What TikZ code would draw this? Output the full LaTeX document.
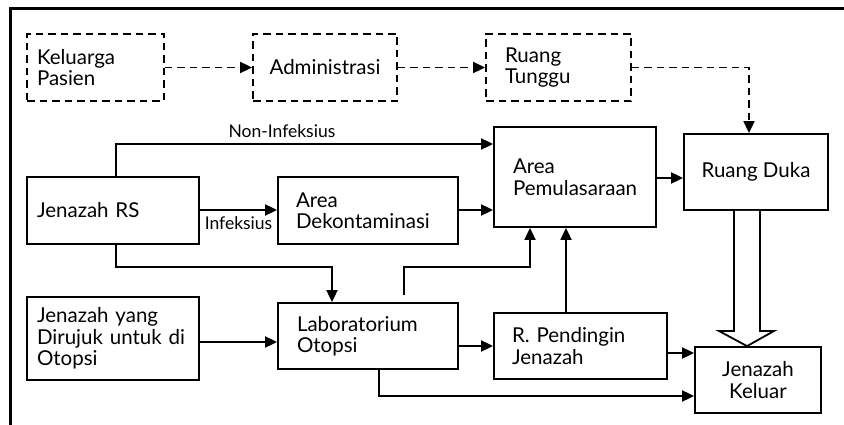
\documentclass[tikz,border=0pt]{standalone}
\usepackage{fontspec}
\setmainfont{Lato}
\usetikzlibrary{arrows.meta,calc}

\tikzset{
  lw/.style={line width=1.8pt},
  boxl/.style n args={3}{draw, lw, align=left, minimum height=#2,
    text width=#1, inner xsep=#3, inner ysep=0pt,
    font=\fontsize{20.5}{21.5}\selectfont},
  boxc/.style n args={2}{draw, lw, align=center, minimum height=#2,
    minimum width=#1, inner sep=0pt,
    font=\fontsize{20.5}{21.5}\selectfont},
  dashbox/.style={dash pattern=on 7.5pt off 5pt},
  arr/.style={lw, -{Triangle[length=12pt,width=11pt]}},
  darr/.style={arr, dash pattern=on 7.5pt off 5pt},
  lbl/.style={font=\fontsize{17.5}{19}\selectfont, inner sep=0pt},
}

\begin{document}
\begin{tikzpicture}[x=1pt,y=-1pt]
\useasboundingbox (0,0) rectangle (844,425);

% outer frame (top and left edges only)
\draw[line width=3pt] (10,425) -- (10,9) -- (844,9);

% family route (dashed)
\node[boxl={117}{67}{10}, dashbox] (kp)  at (95.5,67.5) {Keluarga\\Pasien};
\node[boxc={144}{67}, dashbox]    (adm) at (325,67.5)  {Administrasi};
\node[boxl={107}{67}{19}, dashbox] (rt)  at (558.5,67.5) {Ruang\\Tunggu};

% body route
\node[boxl={152}{67}{10}]  (rs)    at (113,210.5) {Jenazah RS};
\node[boxl={144}{67}{18}]  (dek)   at (368,210.5) {Area\\Dekontaminasi};
\node[boxl={124}{100}{19}] (pem)   at (575,177)   {Area\\Pemulasaraan};
\node[boxc={144}{76}]      (duka)  at (756,172)   {Ruang Duka};
\node[boxl={152}{83}{10}]  (rujuk) at (113,338.5) {Jenazah yang\\Dirujuk untuk di\\Otopsi};
\node[boxl={142}{66}{19}]  (lab)   at (368,336)   {Laboratorium\\Otopsi};
\node[boxl={137}{66}{18}]  (ping)  at (580.5,346) {R. Pendingin\\Jenazah};
\node[boxc={126}{66}]      (kel)   at (758,380)   {Jenazah\\Keluar};

% dashed connectors
\draw[darr] (kp) -- (adm);
\draw[darr] (adm) -- (rt);
\draw[darr] (rt.east) -| ([xshift=-7pt]duka.north);

% non-infectious path
\draw[arr] ([xshift=3pt]rs.north) |- (pem.west |- 0,144)
  node[lbl, pos=0.72, above=5pt] {Non-Infeksius};

% infectious path
\draw[arr] (rs.east |- 0,210) -- (dek.west |- 0,210)
  node[lbl, pos=0.5, below=6pt] {Infeksius};
\draw[arr] (dek.east |- 0,210) -- (pem.west |- 0,210);
\draw[arr] (pem.east |- 0,178) -- (duka.west |- 0,178);

% to autopsy lab
\coordinate (b1) at (332,267);
\draw[arr] ([xshift=3pt]rs.south) |- (b1) -- (b1 |- lab.north);
\draw[arr] (rujuk.east |- 0,342) -- (lab.west |- 0,342);

% from autopsy lab
\coordinate (b2) at (530,267);
\draw[arr] ([xshift=36pt,yshift=7pt]lab.north) |- (b2) -- (b2 |- pem.south);
\draw[arr] (lab.east |- ping.west) -- (ping.west);
\draw[arr] (379,0 |- lab.south) |- (kel.west |- 0,396);

% cold room
\draw[arr] (566,0 |- ping.north) -- (566,0 |- pem.south);
\draw[arr] (ping.east |- 0,353) -- (kel.west |- 0,353);

% hollow arrow from Ruang Duka to exit
\draw[lw, fill=white, line join=miter]
  (734,0 |- duka.south) -- (734,331) -- (719,331) -- (747,0 |- kel.north)
  -- (774,331) -- (760,331) -- (760,0 |- duka.south);
\end{tikzpicture}
\end{document}
